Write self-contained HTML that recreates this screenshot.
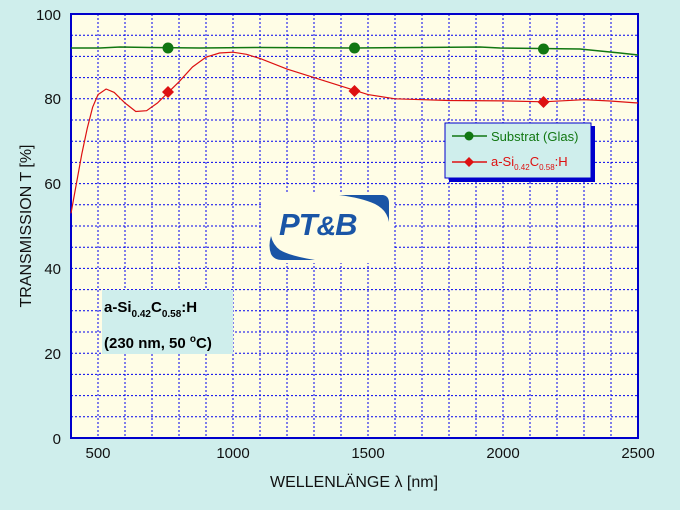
<!DOCTYPE html>
<html><head><style>
body{margin:0;background:#cfeeec;}
svg{display:block;font-family:"Liberation Sans",Arial,sans-serif;}
</style></head><body>
<svg width="680" height="510" viewBox="0 0 680 510">
<rect x="0" y="0" width="680" height="510" fill="#cfeeec"/>
<rect x="71" y="14" width="567" height="424" fill="#fffde6"/>
<g stroke="#0000ee" stroke-width="1" stroke-dasharray="2,2">
<line x1="98" y1="14" x2="98" y2="438"/><line x1="125" y1="14" x2="125" y2="438"/><line x1="152" y1="14" x2="152" y2="438"/><line x1="179" y1="14" x2="179" y2="438"/><line x1="206" y1="14" x2="206" y2="438"/><line x1="233" y1="14" x2="233" y2="438"/><line x1="260" y1="14" x2="260" y2="438"/><line x1="287" y1="14" x2="287" y2="438"/><line x1="314" y1="14" x2="314" y2="438"/><line x1="341" y1="14" x2="341" y2="438"/><line x1="368" y1="14" x2="368" y2="438"/><line x1="395" y1="14" x2="395" y2="438"/><line x1="422" y1="14" x2="422" y2="438"/><line x1="449" y1="14" x2="449" y2="438"/><line x1="476" y1="14" x2="476" y2="438"/><line x1="503" y1="14" x2="503" y2="438"/><line x1="530" y1="14" x2="530" y2="438"/><line x1="557" y1="14" x2="557" y2="438"/><line x1="584" y1="14" x2="584" y2="438"/><line x1="611" y1="14" x2="611" y2="438"/>
<line x1="71" y1="35.2" x2="638" y2="35.2"/><line x1="71" y1="56.4" x2="638" y2="56.4"/><line x1="71" y1="77.6" x2="638" y2="77.6"/><line x1="71" y1="98.8" x2="638" y2="98.8"/><line x1="71" y1="120" x2="638" y2="120"/><line x1="71" y1="141.2" x2="638" y2="141.2"/><line x1="71" y1="162.4" x2="638" y2="162.4"/><line x1="71" y1="183.6" x2="638" y2="183.6"/><line x1="71" y1="204.8" x2="638" y2="204.8"/><line x1="71" y1="226" x2="638" y2="226"/><line x1="71" y1="247.2" x2="638" y2="247.2"/><line x1="71" y1="268.4" x2="638" y2="268.4"/><line x1="71" y1="289.6" x2="638" y2="289.6"/><line x1="71" y1="310.8" x2="638" y2="310.8"/><line x1="71" y1="332" x2="638" y2="332"/><line x1="71" y1="353.2" x2="638" y2="353.2"/><line x1="71" y1="374.4" x2="638" y2="374.4"/><line x1="71" y1="395.6" x2="638" y2="395.6"/><line x1="71" y1="416.8" x2="638" y2="416.8"/>
</g>
<rect x="71" y="14" width="567" height="424" fill="none" stroke="#0000cc" stroke-width="2"/>
<!-- logo -->
<rect x="262" y="192" width="131" height="71" fill="#fffde6"/>
<g fill="#1a55a6">
<path d="M339,195 L383,195 Q389,196 389,203 L389,222 Q387,210 375,204 Q362,198 339,195 Z"/>
<path d="M271,236 Q268,246 271,254 Q274,260 282,260 L315,260 Q290,256 280,250 Q273,245 271,236 Z"/>
</g>
<text x="279" y="235" font-size="31" font-weight="bold" font-style="italic" fill="#1a55a6" letter-spacing="-1">PT<tspan font-size="27">&amp;</tspan>B</text>
<!-- label box -->
<rect x="102" y="290" width="131" height="64" fill="#cfeeec"/>
<text x="104" y="312" font-size="15" font-weight="bold" fill="#000">a-Si<tspan font-size="10" dy="5">0.42</tspan><tspan dy="-5">C</tspan><tspan font-size="10" dy="5">0.58</tspan><tspan dy="-5">:H</tspan></text>
<text x="104" y="348" font-size="15" font-weight="bold" fill="#000">(230 nm, 50 <tspan font-size="10" dy="-6">o</tspan><tspan dy="6">C)</tspan></text>
<!-- series -->
<polyline fill="none" stroke="#117711" stroke-width="1.5" points="71,48 100,48 120,47 150,47.5 200,48 260,47.5 354,48 420,47.5 480,47 500,48 540,48.5 580,49 600,51 620,53 638,55"/>
<polyline fill="none" stroke="#dd1111" stroke-width="1.2" points="71,213.3 76.4,183.6 81.8,154 87.2,128.5 92.6,107.3 98,94.6 106.1,89 114.2,92.4 125,103 135.8,111.5 146.6,110.7 157.4,103 168.2,92.4 179,81.8 192.5,67 206,57.2 219.5,53 233,52.2 246.5,54.3 260,58.5 287,69.1 314,77.6 341,86.1 354.5,90.3 368,94.6 395,98.8 449,100.5 503,100.9 543.5,101.8 584,99.7 610,101 638,103"/>
<circle cx="168" cy="48" r="5.5" fill="#117711"/><circle cx="354.5" cy="48" r="5.5" fill="#117711"/><circle cx="543.5" cy="49" r="5.5" fill="#117711"/>
<g fill="#dd1111"><path d="M168,86 l6,6 l-6,6 l-6,-6z"/><path d="M354.5,85 l6,6 l-6,6 l-6,-6z"/><path d="M543.5,96 l6,6 l-6,6 l-6,-6z"/></g>
<!-- legend -->
<rect x="449" y="126" width="146" height="56" fill="#0000cc"/>
<rect x="445" y="123" width="146" height="55" fill="#cfeeec" stroke="#0000cc" stroke-width="1"/>
<line x1="452" y1="136" x2="487" y2="136" stroke="#117711" stroke-width="1.5"/><circle cx="469" cy="136" r="4.5" fill="#117711"/>
<text x="491" y="141" font-size="13" fill="#117711">Substrat (Glas)</text>
<line x1="452" y1="162" x2="487" y2="162" stroke="#dd1111" stroke-width="1.5"/><path d="M469,157 l5,5 l-5,5 l-5,-5z" fill="#dd1111"/>
<text x="491" y="166" font-size="13" fill="#dd1111">a-Si<tspan font-size="8" dy="4">0.42</tspan><tspan dy="-4">C</tspan><tspan font-size="8" dy="4">0.58</tspan><tspan dy="-4">:H</tspan></text>
<!-- axes labels -->
<g font-size="15" fill="#111" text-anchor="end">
<text x="61" y="20">100</text><text x="61" y="104">80</text><text x="61" y="189">60</text><text x="61" y="274">40</text><text x="61" y="359">20</text><text x="61" y="444">0</text>
</g>
<g font-size="15" fill="#111" text-anchor="middle">
<text x="98" y="458">500</text><text x="233" y="458">1000</text><text x="368" y="458">1500</text><text x="503" y="458">2000</text><text x="638" y="458">2500</text>
</g>
<text x="354" y="487" font-size="16" fill="#111" text-anchor="middle">WELLENLÄNGE  λ [nm]</text>
<text transform="translate(31,226) rotate(-90)" font-size="16" fill="#111" text-anchor="middle">TRANSMISSION  T [%]</text>
</svg>
</body></html>
